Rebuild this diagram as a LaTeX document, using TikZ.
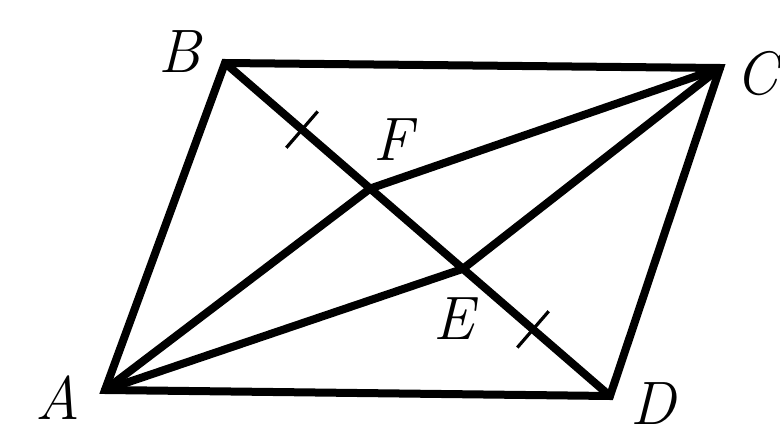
\documentclass[tikz,border=0pt]{standalone}
\usetikzlibrary{calc}
\begin{document}
\begin{tikzpicture}[x=0.75pt,y=-0.75pt,
  edge/.style={line width=6pt,line join=miter,line cap=round},
  tick/.style={line width=2.4pt},
  lab/.style={inner sep=0pt,font=\fontsize{46}{50}\selectfont\itshape}]
\useasboundingbox (0,0) rectangle (780,438);
\clip (0,0) rectangle (780,438);
\coordinate (A) at (105,390);
\coordinate (B) at (225,63);
\coordinate (C) at (720,68);
\coordinate (D) at (610,396);
\coordinate (F) at ($(B)!0.377!(D)$);
\coordinate (E) at ($(B)!0.618!(D)$);
\draw[edge] (A) -- (B) -- (C) -- (D) -- cycle;
\draw[edge] (B) -- (D);
\draw[edge] (A) -- (F) -- (C);
\draw[edge] (A) -- (E) -- (C);
\coordinate (T1) at ($(B)!0.2!(D)$);
\coordinate (T2) at ($(B)!0.8!(D)$);
\draw[tick] ($(T1)!18pt!90:(D)$) -- ($(T1)!18pt!-90:(D)$);
\draw[tick] ($(T2)!18pt!90:(D)$) -- ($(T2)!18pt!-90:(D)$);
\node[lab] (lA) at (58,398) {A};
\node[lab] (lB) at (180,52) {B};
\node[lab,anchor=east] (lC) at (779,74) {C};
\node[lab] (lD) at (653,404) {D};
\node[lab] (lE) at (454,319) {E};
\node[lab] (lF) at (393,140) {F};
\end{tikzpicture}
\end{document}
